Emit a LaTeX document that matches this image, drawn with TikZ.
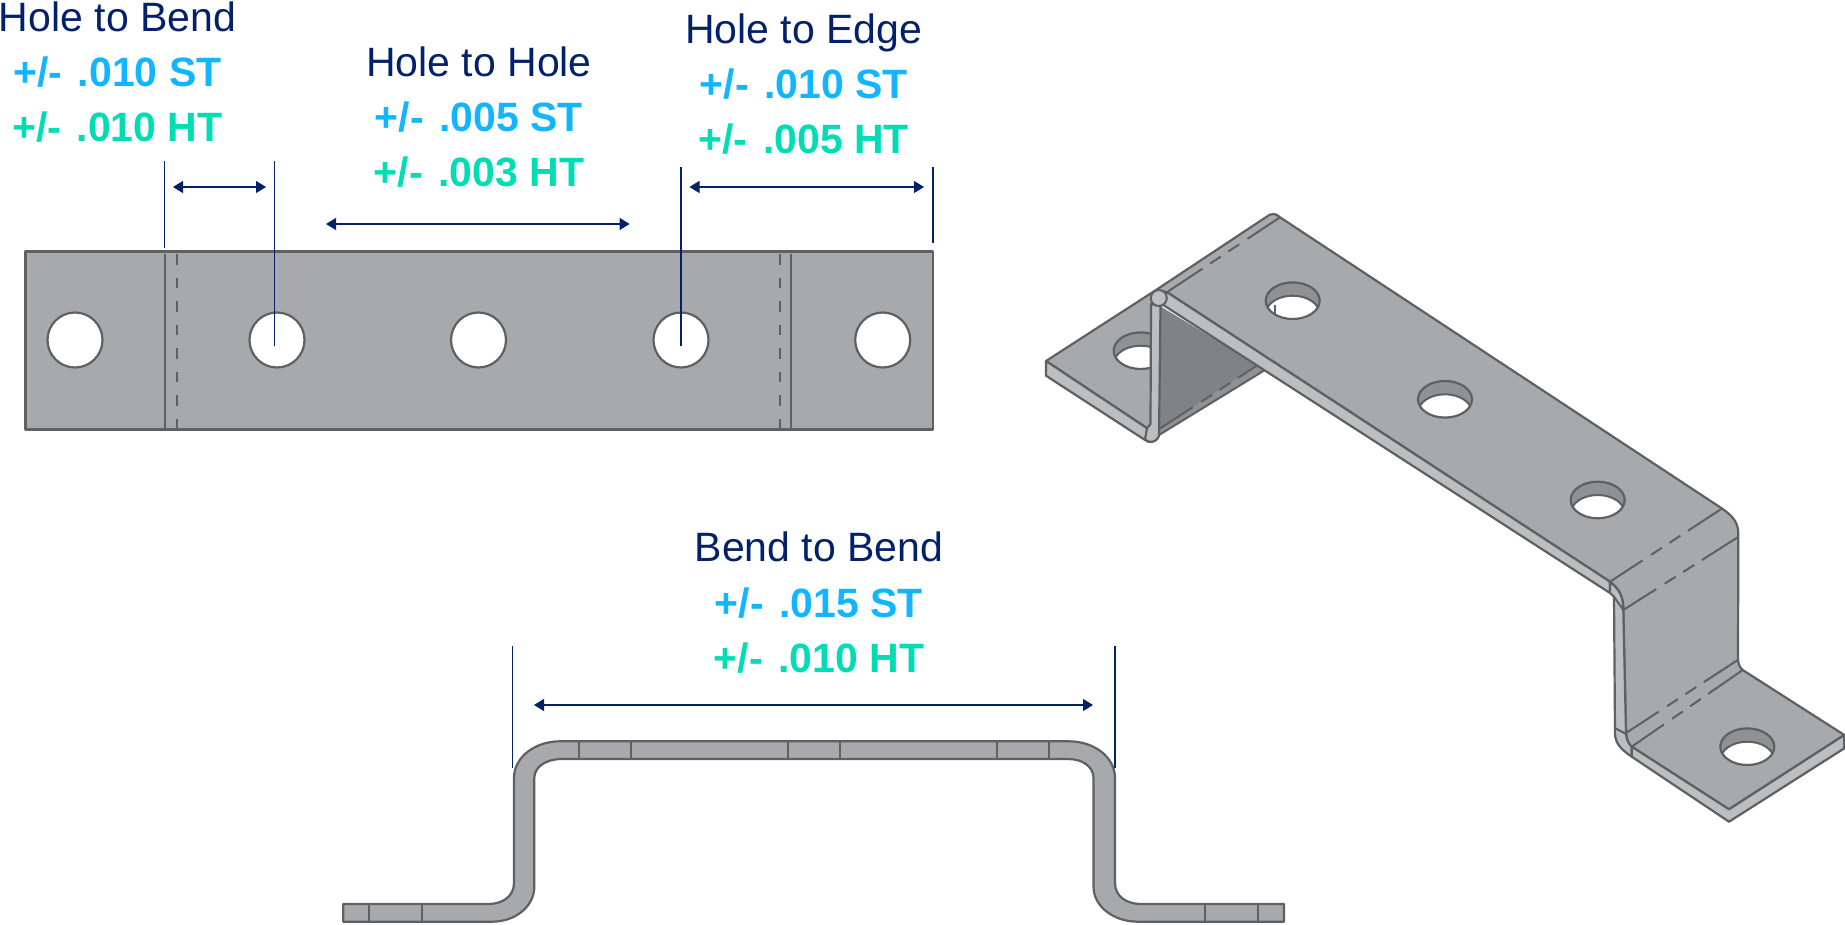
\documentclass[tikz,border=0pt]{standalone}
\usepackage{fontspec}
\usepackage{xcolor}
\usetikzlibrary{arrows.meta,calc}
\setmainfont{Liberation Sans}
\definecolor{partface}{HTML}{A7A9AC}
\definecolor{partedge}{HTML}{BCBEC0}
\definecolor{partdark}{HTML}{808285}
\definecolor{partmid}{HTML}{8F9194}
\definecolor{partline}{HTML}{5F6062}
\definecolor{dimnavy}{HTML}{03216B}
\definecolor{tolst}{HTML}{12B5FF}
\definecolor{tolht}{HTML}{00DDB4}
\tikzset{
    part/.style={draw=partline, line width=2.2pt, line join=round, fill=partface},
    partstrip/.style={part, fill=partedge},
    seam/.style={draw=partline, line width=2pt},
    foldline/.style={draw=partline, line width=2pt, dash pattern=on 39pt off 10pt on 13pt off 9pt on 13pt off 9pt on 60pt},
    flatdash/.style={draw=partline, line width=1.8pt, dash pattern=on 10.5pt off 13pt},
    hole/.style={circle, draw=partline, line width=2.2pt, fill=white, minimum size=55pt, inner sep=0pt},
    extline/.style={draw=dimnavy, line width=1.2pt},
    dimarrow/.style={draw=dimnavy, line width=1.2pt, {Triangle[length=10pt,width=12pt]}-{Triangle[length=10pt,width=12pt]}},
    dimhead/.style={anchor=base, text=dimnavy, font=\fontsize{41}{48}\selectfont},
    tolst/.style={anchor=base, text=tolst, font=\fontsize{41}{48}\selectfont\bfseries},
    tolht/.style={anchor=base, text=tolht, font=\fontsize{41}{48}\selectfont\bfseries}
}
% hole seen at an angle: centre x, centre y
\newcommand{\isohole}[2]{
    \fill[partmid] (#1,#2) ellipse [x radius=27, y radius=18.3];
    \begin{scope}
        \clip (#1,#2) ellipse [x radius=27, y radius=18.3];
        \fill[white] (#1,#2+13.3) ellipse [x radius=27, y radius=18.3];
        \draw[seam] (#1,#2+13.3) ellipse [x radius=27, y radius=18.3];
    \end{scope}
    \draw[seam, line width=2.2pt] (#1,#2) ellipse [x radius=27, y radius=18.3];
}
\begin{document}
\begin{tikzpicture}[x=1pt, y=-1pt]
    \useasboundingbox (0,0) rectangle (1845,924);

    % Flat pattern
    \draw[part] (25.5,251.5) rectangle (933,429.5);
    \draw[seam] (165,254) -- (165,429);
    \draw[flatdash] (177,254) -- (177,429);
    \draw[seam] (790.7,254) -- (790.7,429);
    \draw[flatdash] (780,254) -- (780,429);
    \node[hole] (hole a) at (75,340) {};
    \node[hole] (hole b) at (277,340) {};
    \node[hole] (hole c) at (478.5,340) {};
    \node[hole] (hole d) at (681,340) {};
    \node[hole] (hole e) at (882.7,340) {};

    % Hole to Bend
    \node[dimhead] (hb head) at (117.5,31.7) {Hole to Bend};
    \node[tolst] (hb st) at (117.5,86.7) {+/-\ \kern.1em.010 ST};
    \node[tolht] (hb ht) at (117.5,141.7) {+/-\ \kern.1em.010 HT};
    \coordinate (hb top a) at (164.7,161);
    \coordinate (hb end a) at (164.7,248);
    \coordinate (hb top b) at (274.3,161);
    \coordinate (hb end b) at (274.3,346);
    \coordinate (hb left) at (173,187);
    \coordinate (hb right) at (266,187);
    \draw[extline] (hb top a) -- (hb end a);
    \draw[extline] (hb top b) -- (hb end b);
    \draw[dimarrow] (hb left) -- (hb right);

    % Hole to Hole
    \node[dimhead] (hh head) at (479,76) {Hole to Hole};
    \node[tolst] (hh st) at (479,131.7) {+/-\ \kern.1em.005 ST};
    \node[tolht] (hh ht) at (479,186.7) {+/-\ \kern.1em.003 HT};
    \coordinate (hh left) at (326,224);
    \coordinate (hh right) at (629.6,224);
    \draw[dimarrow] (hh left) -- (hh right);

    % Hole to Edge
    \node[dimhead] (he head) at (803.8,43.3) {Hole to Edge};
    \node[tolst] (he st) at (803.8,98.3) {+/-\ \kern.1em.010 ST};
    \node[tolht] (he ht) at (803.8,153.3) {+/-\ \kern.1em.005 HT};
    \coordinate (he top a) at (681,167);
    \coordinate (he end a) at (681,346);
    \coordinate (he top b) at (933,167);
    \coordinate (he end b) at (933,243);
    \coordinate (he left) at (689.5,187);
    \coordinate (he right) at (924,187);
    \draw[extline] (he top a) -- (he end a);
    \draw[extline] (he top b) -- (he end b);
    \draw[dimarrow] (he left) -- (he right);

    % Bend to Bend
    \node[dimhead] (bb head) at (819,561.7) {Bend to Bend};
    \node[tolst] (bb st) at (819,617.3) {+/-\ \kern.1em.015 ST};
    \node[tolht] (bb ht) at (819,672.7) {+/-\ \kern.1em.010 HT};
    \coordinate (bb top a) at (512.6,646);
    \coordinate (bb end a) at (512.6,768);
    \coordinate (bb top b) at (1115,646);
    \coordinate (bb end b) at (1115,768);
    \coordinate (bb left) at (534,705);
    \coordinate (bb right) at (1093,705);
    \draw[extline] (bb top a) -- (bb end a);
    \draw[extline] (bb top b) -- (bb end b);
    \draw[dimarrow] (bb left) -- (bb right);

    % Side profile
    \draw[part] (343.3,904) -- (488,904) .. controls (503,904) and (514,896) .. (514,883)
        -- (514,778) .. controls (514,757) and (535,741.3) .. (560,741.3)
        -- (1069,741.3) .. controls (1094,741.3) and (1115,757) .. (1115,778)
        -- (1115,883) .. controls (1115,896) and (1126,904) .. (1141,904)
        -- (1284,904) -- (1284,921.7) -- (1138,921.7) .. controls (1113,921.7) and (1093.5,906) .. (1093.5,886.7)
        -- (1093.5,778) .. controls (1093.5,767) and (1083,759) .. (1068,759)
        -- (561.7,759) .. controls (546,759) and (534.3,767) .. (534.3,778)
        -- (534.3,886.7) .. controls (534.3,906) and (516,921.7) .. (491.7,921.7)
        -- (343.3,921.7) -- cycle;
    \draw[seam] (369.3,904) -- (369.3,921.7);
    \draw[seam] (421.7,904) -- (421.7,921.7);
    \draw[seam] (579,741.3) -- (579,759);
    \draw[seam] (631,741.3) -- (631,759);
    \draw[seam] (788,741.3) -- (788,759);
    \draw[seam] (840,741.3) -- (840,759);
    \draw[seam] (997,741.3) -- (997,759);
    \draw[seam] (1048.5,741.3) -- (1048.5,759);
    \draw[seam] (1205,904) -- (1205,921.7);
    \draw[seam] (1258,904) -- (1258,921.7);

    % Bracket, far flange and inner wall
    \draw[part] (1046,361) -- (1156,290) -- (1156,430) -- (1146.7,428) -- cycle;
    \isohole{1140.7}{350.7}
    \draw[partstrip] (1046,361) -- (1046,375.7) -- (1145,440) .. controls (1149,442.7) and (1154,443.5) .. (1158,436) -- (1160,425) -- (1146.7,428) -- cycle;
    \fill[partdark] (1160,306) -- (1265,370) -- (1159,435) -- cycle;
    \fill[partmid] (1160,428) -- (1256.7,366) -- (1265,370) -- (1159,435) -- cycle;
    \draw[seam] (1159,435) -- (1265,370);
    \draw[foldline] (1160,428.5) -- (1256.7,365.7);
    \draw[partstrip] (1151,304) -- (1150.5,424) -- (1147,428) -- (1145,439.5) .. controls (1149,442.7) and (1155,444) .. (1159,436) -- (1160.5,306) -- cycle;

    % Bracket, main sheet
    \draw[part] (1156,290) -- (1270,214.5) .. controls (1273,213.5) and (1276,213.5) .. (1280,217.3)
        -- (1721.7,508.3) .. controls (1733,516) and (1738.3,523) .. (1738.3,533.3)
        -- (1738,658.3) .. controls (1738,664) and (1740,668) .. (1742.7,670)
        -- (1844.3,735) -- (1729,809.3) -- (1631.7,746.7)
        .. controls (1629,744) and (1626.5,741) .. (1626,733)
        -- (1623.3,610) .. controls (1623.3,597) and (1620,590) .. (1610,581.7)
        -- (1166.7,292) -- cycle;
    \draw[partstrip] (1166.7,292) -- (1610,581.7) -- (1610,593) -- (1161.7,304) -- cycle;
    \draw[partstrip] (1610,581.7) .. controls (1620,590) and (1623.3,597) .. (1623.3,610)
        -- (1626,733) .. controls (1626.5,741) and (1629,744) .. (1631.7,746.7)
        -- (1631.7,756.7) .. controls (1622,750) and (1615,744) .. (1615,733)
        -- (1614,596.7) -- (1610,593) -- cycle;
    \draw[partstrip] (1631.7,746.7) -- (1729,809.3) -- (1844.3,735) -- (1844.3,748.3) -- (1729,821.7) -- (1631.7,756.7) -- cycle;
    \draw[seam] (1614,596.7) -- (1623.3,610);
    \draw[seam] (1615,728) -- (1626,734);
    \fill[partedge, draw=partline, line width=2pt] (1158.8,298) circle (8);

    % Bracket, fold lines
    \draw[foldline] (1280,217.3) -- (1168,291.5);
    \draw[foldline] (1610,581.7) -- (1722.3,508.3);
    \draw[foldline] (1623.3,610) -- (1737.7,537.3);
    \draw[foldline] (1626,733) -- (1737.7,660);
    \draw[foldline] (1631.7,746.7) -- (1742.7,670);

    % Bracket, holes
    \isohole{1292.7}{300.7}
    \draw[seam] (1275,305) -- (1275,314);
    \isohole{1445}{399.3}
    \isohole{1597.7}{500}
    \isohole{1747.3}{746.7}
\end{tikzpicture}
\end{document}
